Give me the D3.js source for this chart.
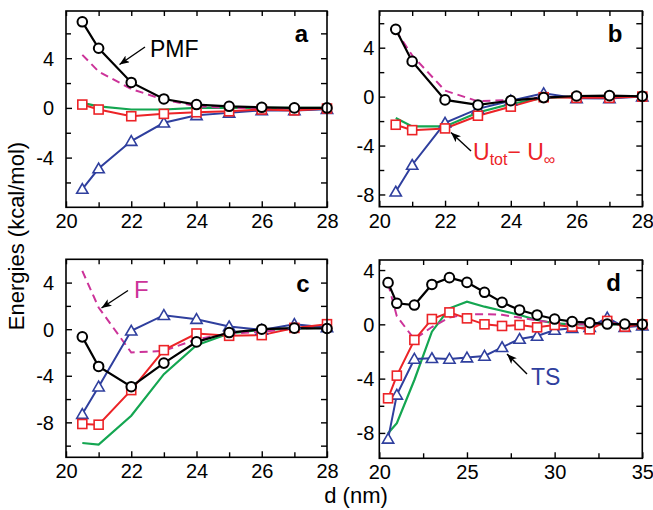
<!DOCTYPE html>
<html><head><meta charset="utf-8">
<script src="https://cdn.jsdelivr.net/npm/d3@7"></script>
<style>
body{margin:0;background:#fff}
svg{display:block}
text{font-family:"Liberation Sans",Arial,Helvetica,sans-serif}
</style>
</head><body>
<svg id="chart" width="653" height="510"></svg>
<script>
// Separation grids (nm)
const dShort = [20.5, 21, 22, 23, 24, 25, 26, 27, 28];
const dLong = [20.5, 21, 22, 23, 24, 25, 26, 27, 28, 29, 30, 31, 32, 33, 34, 35];

// Tick labels
const xTicksShort = [20, 22, 24, 26, 28];
const xTicksLong = [20, 25, 30, 35];
const yTicks = [-8, -4, 0, 4];

// Panel a (kcal/mol)
const pmfA = [6.93, 4.8, 2.05, 0.72, 0.27, 0.13, 0.05, 0.0, 0.0];
const dUA  = [0.27, -0.13, -0.67, -0.48, -0.35, -0.27, -0.13, -0.2, -0.05];
const tsA  = [-6.53, -4.88, -2.67, -1.2, -0.6, -0.4, -0.2, -0.2, -0.1];
const uA   = [0.4, 0.13, -0.13, -0.13, 0.0, 0.0, 0.0, 0.0, 0.0];
const fA   = [4.27, 2.93, 1.52, 0.67, 0.13, 0.0, 0.0, 0.0, 0.0];

// Panel b
const pmfB = [5.5, 2.88, -0.27, -0.68, -0.33, -0.08, 0.05, 0.08, 0.03];
const dUB  = [-2.3, -2.74, -2.6, -1.56, -0.82, -0.05, -0.1, -0.1, 0.0];
const tsB  = [-7.78, -5.59, -2.14, -1.0, -0.33, 0.27, -0.14, -0.15, 0.0];
const uB   = [-1.75, -2.44, -2.44, -1.3, -0.6, -0.1, 0.0, 0.0, 0.0];
const fB   = [5.4, 3.37, 0.49, -0.38, -0.27, -0.05, 0.0, 0.0, 0.0];

// Panel c
const pmfC = [-0.66, -3.2, -4.94, -2.91, -1.09, -0.29, 0.0, 0.09, 0.06];
const dUC  = [-8.14, -8.2, -5.23, -1.8, -0.37, -0.57, -0.51, 0.11, 0.43];
const tsC  = [-7.29, -4.94, -0.14, 1.2, 0.86, 0.23, -0.06, 0.43, 0.14];
const uC   = [-9.77, -9.91, -7.43, -3.86, -1.37, -0.37, -0.06, 0.06, 0.14];
const fC   = [5.0, 1.86, -2.0, -1.86, -0.86, -0.37, -0.23, 0.06, 0.14];

// Panel d
const pmfD = [3.07, 1.55, 1.42, 2.94, 3.44, 3.09, 2.36, 1.62, 1.06, 0.69, 0.39, 0.2, 0.12, 0.02, 0.02, 0.0];
const dUD  = [-5.45, -3.78, -1.15, 0.39, 0.88, 0.44, 0.0, -0.12, -0.05, -0.22, -0.05, -0.17, -0.37, 0.25, -0.17, 0.0];
const tsD  = [-8.44, -5.2, -2.55, -2.5, -2.55, -2.45, -2.33, -1.69, -1.08, -0.86, -0.42, -0.29, -0.22, 0.49, -0.22, -0.1];
const uD   = [-8.02, -7.29, -4.1, -0.54, 1.18, 1.67, 1.3, 1.0, 0.69, 0.32, 0.07, 0.0, 0.0, 0.0, 0.0, 0.0];
const fD   = [3.0, 0.6, -1.1, -0.2, 0.5, 0.75, 0.75, 0.7, 0.5, 0.3, 0.1, 0.0, 0.0, 0.0, 0.0, 0.0];

const C = {
  black: "#000000",
  red: "#ec2327",
  blue: "#2f3f9e",
  green: "#14a651",
  magenta: "#cc3399"
};

const svg = d3.select("#chart");

const defs = svg.append("defs");
defs.append("marker")
  .attr("id", "head")
  .attr("viewBox", "0 0 10 8")
  .attr("refX", 10).attr("refY", 4)
  .attr("markerWidth", 10).attr("markerHeight", 8)
  .attr("markerUnits", "userSpaceOnUse")
  .attr("orient", "auto")
  .append("path").attr("d", "M0,0 L10,4 L0,8 L2.5,4 Z").attr("fill", "#000");

const panels = [
  { tag: "a", box: [66, 11, 327, 207.3], xd: [20, 28], yd: [-8, 7.8], d: dShort,
    xt: xTicksShort, xm: [21, 23, 25, 27], yl: [-4, 0, 4], pad: 12,
    pmf: pmfA, dU: dUA, ts: tsA, u: uA, f: fA },
  { tag: "b", box: [379.3, 11, 642.3, 206.7], xd: [20, 28], yd: [-9, 7], d: dShort,
    xt: xTicksShort, xm: [21, 23, 25, 27], yl: yTicks, pad: 5,
    pmf: pmfB, dU: dUB, ts: tsB, u: uB, f: fB },
  { tag: "c", box: [66, 259.3, 327, 457.3], xd: [20, 28], yd: [-11, 6], d: dShort,
    xt: xTicksShort, xm: [21, 23, 25, 27], yl: yTicks, pad: 12,
    pmf: pmfC, dU: dUC, ts: tsC, u: uC, f: fC },
  { tag: "d", box: [379.3, 260, 642.3, 458.3], xd: [20, 35], yd: [-9.87, 4.74], d: dLong,
    xt: xTicksLong, xm: [22.5, 27.5, 32.5], yl: yTicks, pad: 5,
    pmf: pmfD, dU: dUD, ts: tsD, u: uD, f: fD }
];

const yMinorAll = [-10, -6, -2, 2, 6];
const yMajorAll = [-8, -4, 0, 4];

panels.forEach(p => {
  const [x0, y0, x1, y1] = p.box;
  const x = d3.scaleLinear().domain(p.xd).range([x0, x1]);
  const y = d3.scaleLinear().domain(p.yd).range([y1, y0]);
  const inY = v => v > p.yd[0] + 1e-6 && v < p.yd[1] - 1e-6;
  const g = svg.append("g").attr("class", "panel-" + p.tag);

  // ticks (inward on all four sides)
  const tk = 6, tkm = 5;
  const styleAxis = sel => {
    sel.select(".domain").remove();
    sel.selectAll(".tick line").attr("stroke", "#000").attr("stroke-width", 1.4);
    sel.selectAll(".tick text").attr("font-size", 20).attr("fill", "#000")
      .attr("font-family", "Liberation Sans, Arial, sans-serif");
  };
  // left major with labels
  g.append("g").attr("transform", `translate(${x0},0)`)
    .call(d3.axisLeft(y).tickValues(yMajorAll.filter(inY)).tickSize(-tk).tickPadding(p.pad)
      .tickFormat(v => p.yl.includes(v) ? String(v) : ""))
    .call(styleAxis);
  g.append("g").attr("transform", `translate(${x0},0)`)
    .call(d3.axisLeft(y).tickValues(yMinorAll.filter(inY)).tickSize(-tkm).tickFormat(""))
    .call(styleAxis);
  g.append("g").attr("transform", `translate(${x1},0)`)
    .call(d3.axisRight(y).tickValues(yMajorAll.concat(yMinorAll).filter(inY)).tickSize(-tk).tickFormat(""))
    .call(styleAxis);
  // bottom major with labels
  g.append("g").attr("transform", `translate(0,${y1})`)
    .call(d3.axisBottom(x).tickValues(p.xt).tickSize(-tk).tickPadding(4).tickFormat(d3.format("d")))
    .call(styleAxis);
  g.append("g").attr("transform", `translate(0,${y1})`)
    .call(d3.axisBottom(x).tickValues(p.xm).tickSize(-tkm).tickFormat(""))
    .call(styleAxis);
  g.append("g").attr("transform", `translate(0,${y0})`)
    .call(d3.axisTop(x).tickValues(p.xt.concat(p.xm)).tickSize(-tkm).tickFormat(""))
    .call(styleAxis);
  g.selectAll("text").attr("dy", null);
  g.selectAll(".tick text").each(function () {
    const t = d3.select(this);
    if (t.attr("y") !== null && +t.attr("y") > 0) t.attr("dy", "0.85em");
    else t.attr("dy", "0.35em");
  });

  // clipped plotting area
  const clipId = "clip-" + p.tag;
  defs.append("clipPath").attr("id", clipId)
    .append("rect").attr("x", x0).attr("y", y0).attr("width", x1 - x0).attr("height", y1 - y0);
  const plot = g.append("g").attr("clip-path", `url(#${clipId})`);

  const line = vals => d3.line().x((v, i) => x(p.d[i])).y(v => y(v))(vals);

  // component energy (green)
  plot.append("path").attr("d", line(p.u)).attr("fill", "none")
    .attr("stroke", C.green).attr("stroke-width", 2.2);
  // free energy F (dashed)
  plot.append("path").attr("d", line(p.f)).attr("fill", "none")
    .attr("stroke", C.magenta).attr("stroke-width", 2).attr("stroke-dasharray", "8,5");
  // TS (triangles)
  plot.append("path").attr("d", line(p.ts)).attr("fill", "none")
    .attr("stroke", C.blue).attr("stroke-width", 2);
  const tri = d3.symbol().type(d3.symbolTriangle).size(55);
  g.append("g").selectAll("path").data(p.ts).join("path")
    .attr("d", tri).attr("transform", (v, i) => `translate(${x(p.d[i])},${y(v) + 1})`)
    .attr("fill", "#fff").attr("stroke", C.blue).attr("stroke-width", 1.6);
  // Utot - Uinf (squares)
  plot.append("path").attr("d", line(p.dU)).attr("fill", "none")
    .attr("stroke", C.red).attr("stroke-width", 2);
  g.append("g").selectAll("rect").data(p.dU).join("rect")
    .attr("x", (v, i) => x(p.d[i]) - 4.5).attr("y", v => y(v) - 4.5)
    .attr("width", 9).attr("height", 9)
    .attr("fill", "#fff").attr("stroke", C.red).attr("stroke-width", 1.6);
  // PMF (circles)
  plot.append("path").attr("d", line(p.pmf)).attr("fill", "none")
    .attr("stroke", C.black).attr("stroke-width", 2.2);
  g.append("g").selectAll("circle").data(p.pmf).join("circle")
    .attr("cx", (v, i) => x(p.d[i])).attr("cy", v => y(v)).attr("r", 4.8)
    .attr("fill", "#fff").attr("stroke", C.black).attr("stroke-width", 2);

  // frame
  g.append("rect").attr("x", x0).attr("y", y0).attr("width", x1 - x0).attr("height", y1 - y0)
    .attr("fill", "none").attr("stroke", "#000").attr("stroke-width", 1.6);

  p.x = x; p.y = y; p.g = g;
});

// panel letters
const letterPos = { a: [301.5, 42], b: [615, 42], c: [303, 292], d: [613.7, 291] };
panels.forEach(p => {
  svg.append("text").attr("x", letterPos[p.tag][0]).attr("y", letterPos[p.tag][1])
    .attr("text-anchor", "middle").attr("font-size", 24).attr("font-weight", "bold")
    .text(p.tag);
});

// annotations
const arrow = (xa, ya, xb, yb) => svg.append("line")
  .attr("x1", xa).attr("y1", ya).attr("x2", xb).attr("y2", yb)
  .attr("stroke", "#000").attr("stroke-width", 1.4).attr("marker-end", "url(#head)");

svg.append("text").attr("x", 150).attr("y", 56.5).attr("font-size", 23).text("PMF");
arrow(145, 47, 119.5, 64.5);

const ut = svg.append("text").attr("x", 473).attr("y", 160).attr("font-size", 23).attr("fill", C.red);
ut.append("tspan").text("U");
ut.append("tspan").attr("font-size", 16).attr("dy", 5).text("tot");
ut.append("tspan").attr("dy", -5).text("\u2212 U");
ut.append("tspan").attr("font-size", 16).attr("dy", 5).text("\u221E");
arrow(471, 151, 451, 132.5);

svg.append("text").attr("x", 134).attr("y", 298).attr("font-size", 24).attr("fill", C.magenta).text("F");
arrow(128, 290.5, 101.5, 308);

svg.append("text").attr("x", 531).attr("y", 385).attr("font-size", 23).attr("fill", C.blue).text("TS");
arrow(527, 374, 507, 354);

// axis titles
svg.append("text").attr("transform", "translate(24,236) rotate(-90)")
  .attr("text-anchor", "middle").attr("font-size", 22).text("Energies (kcal/mol)");
svg.append("text").attr("x", 356).attr("y", 503)
  .attr("text-anchor", "middle").attr("font-size", 22).text("d (nm)");
</script>
</body></html>
